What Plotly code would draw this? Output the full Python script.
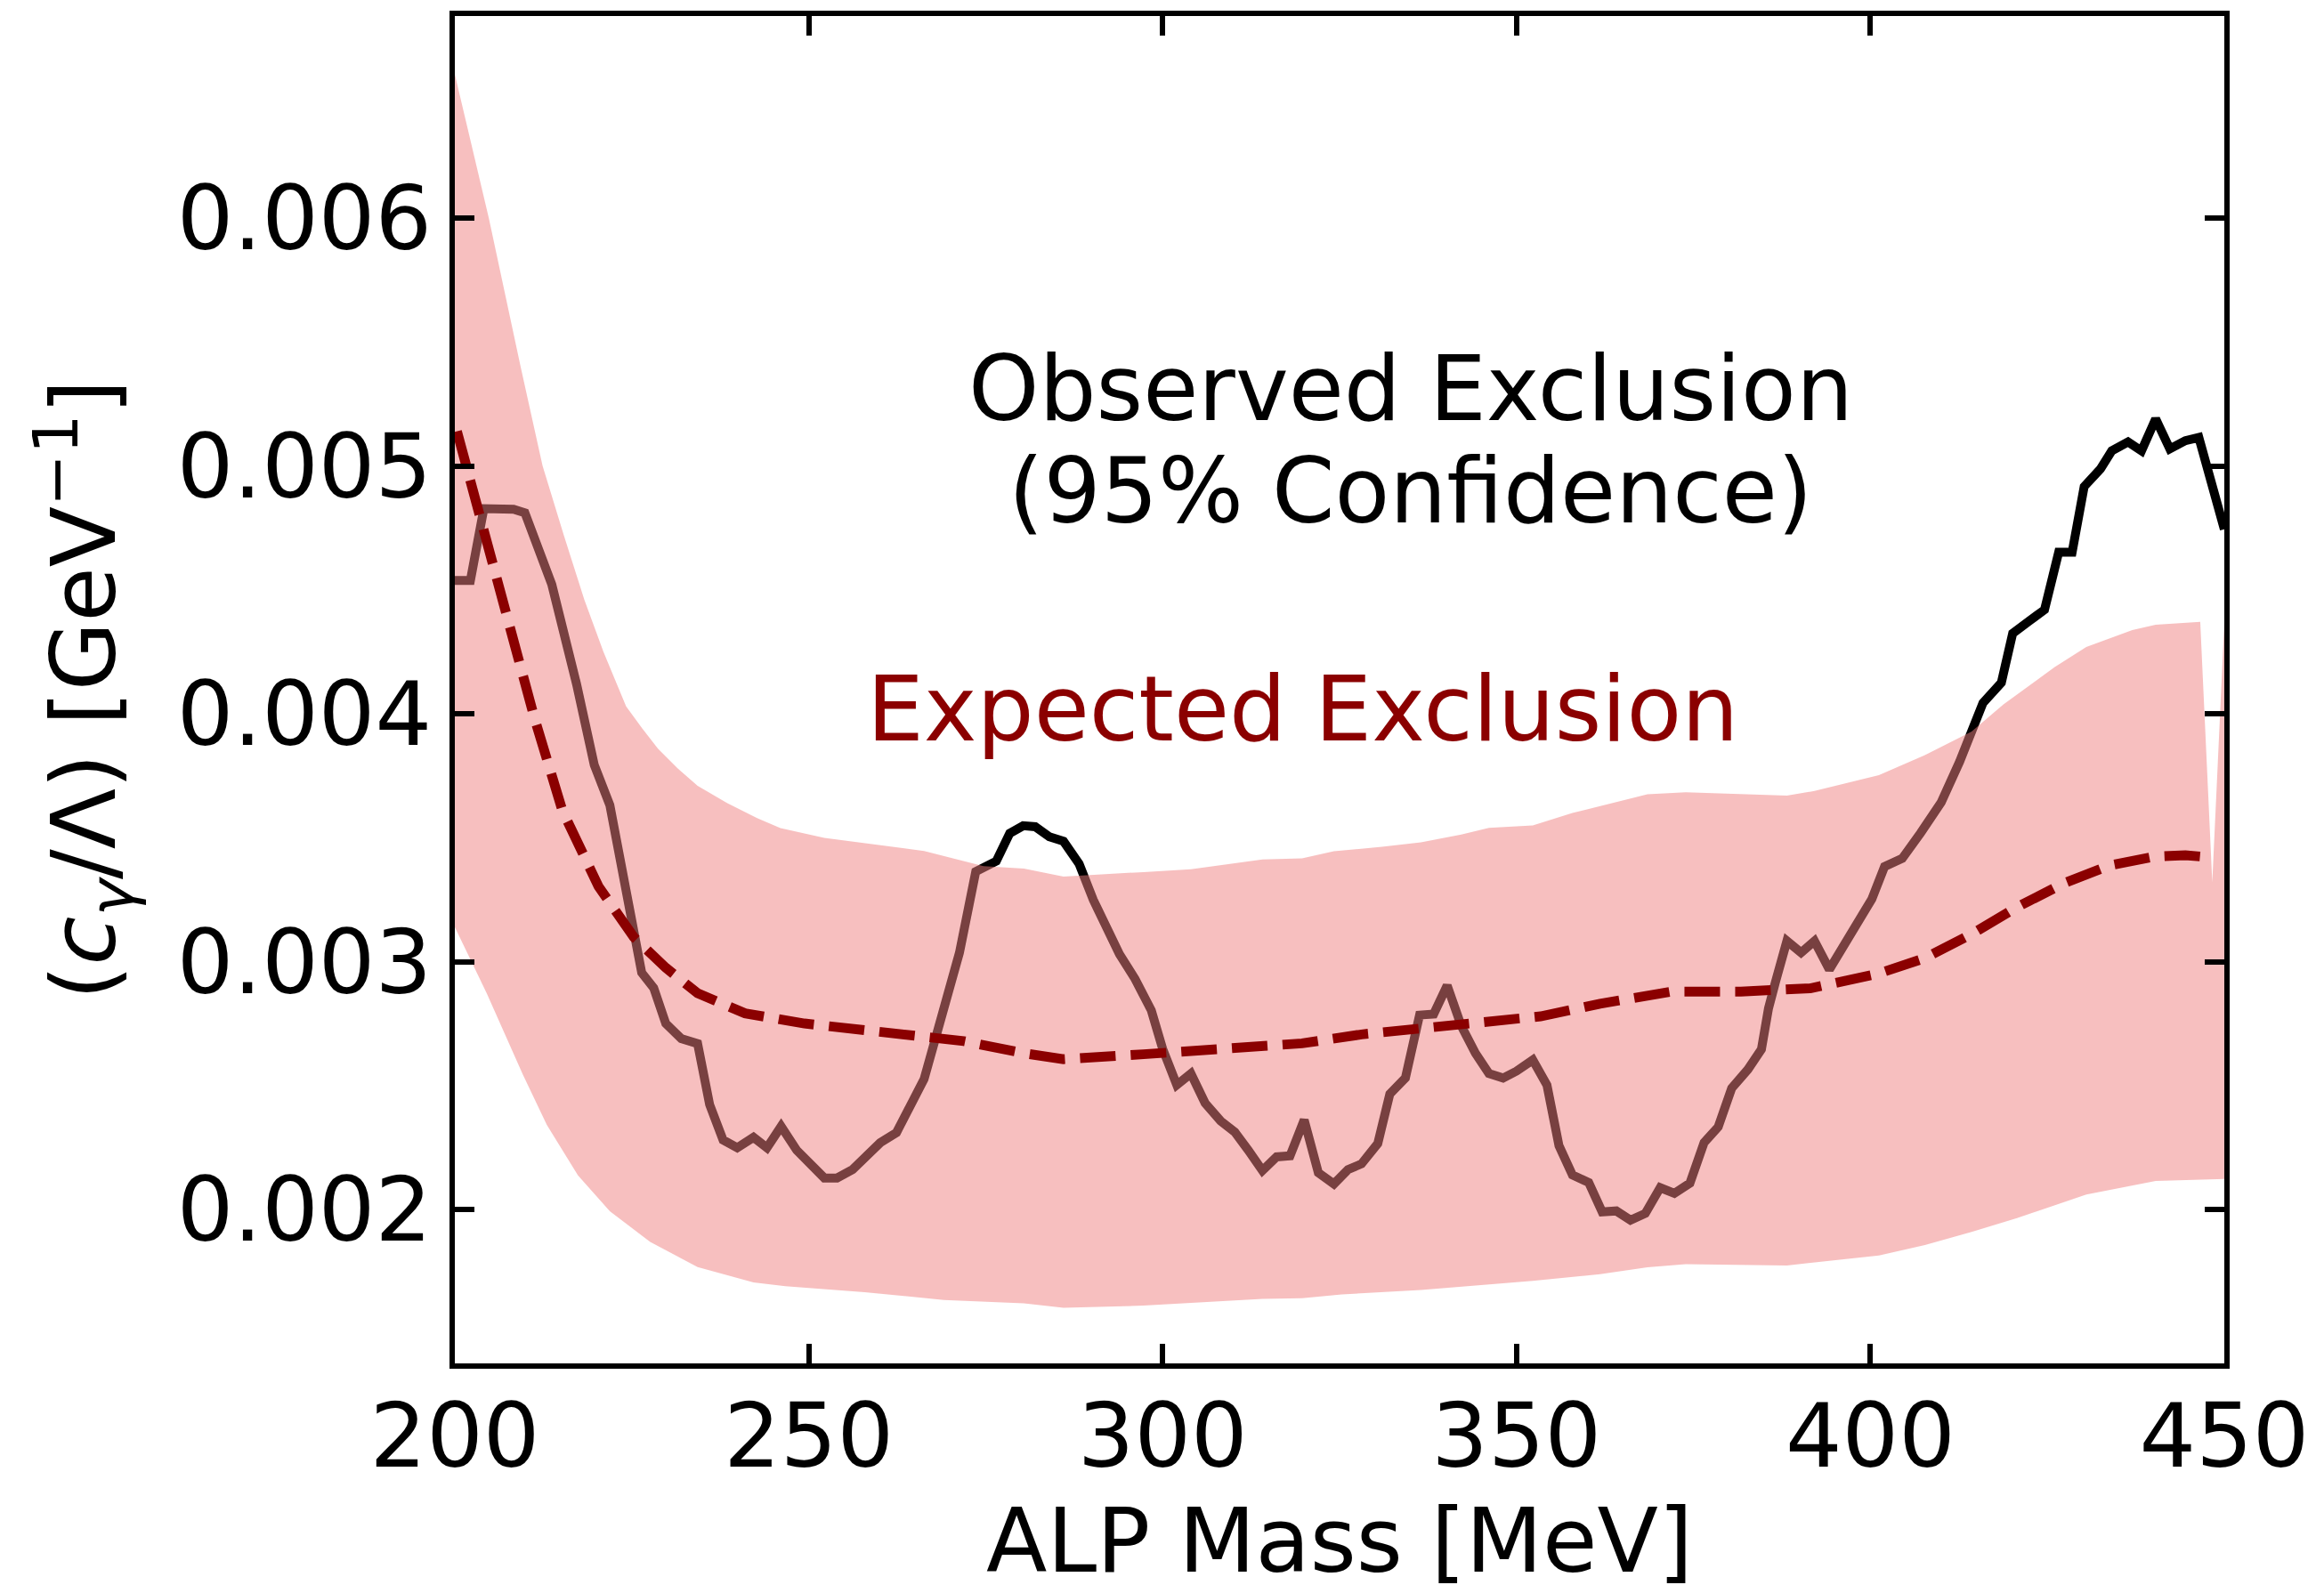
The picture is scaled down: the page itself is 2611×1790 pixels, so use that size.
import plotly.graph_objects as go

# ALP mass grid points (MeV) and coupling limits (GeV^-1)
obs_mass = [200, 202.2, 204.1, 208.3, 209.9, 213.7, 217.2, 219.7, 221.9, 224.2, 226.4, 228.1,
            229.8, 232, 234.3, 236, 237.9, 239.9, 242.2, 244.1, 246.1, 248.3, 252.2, 254,
            256.2, 260.1, 262.4, 266.3, 269.1, 271.3, 273.6, 276.5, 278.4, 280.3, 282, 284,
            286, 288.2, 290.2, 293.9, 296.1, 298.4, 300, 302, 304, 306, 308.2, 310.2,
            312.1, 314.1, 316.1, 318, 320, 322, 324.2, 326.2, 328.1, 330.4, 332.1, 334.3,
            336.3, 338.3, 340.2, 342.2, 344.2, 346.1, 348.1, 350, 352.3, 354.3, 356, 357.9,
            360.2, 362.1, 364.1, 366.1, 368.2, 370.3, 372.3, 374.5, 376.5, 378.5, 380.4, 382.7,
            384.6, 385.6, 386.6, 388.2, 390.2, 392.1, 394.2, 396, 398, 400.2, 402, 404.5,
            407.1, 410, 412.6, 415.9, 418.5, 420.1, 422.4, 424.6, 426.6, 428.5, 430.2, 432.5,
            434.1, 436.4, 438.3, 440.3, 442.3, 444.5, 446.4, 450]
obs_limit = [0.004538, 0.004538, 0.004828, 0.004825, 0.004811, 0.004522, 0.00412, 0.003794,
             0.003632, 0.003283, 0.002956, 0.002894, 0.002751, 0.00269, 0.00267, 0.002424,
             0.002281, 0.00225, 0.002292, 0.00225, 0.002336, 0.00224, 0.002128, 0.002128,
             0.002162, 0.00227, 0.002311, 0.002527, 0.002812, 0.003037, 0.003364, 0.003406,
             0.003518, 0.003549, 0.003545, 0.003504, 0.003486, 0.003395, 0.00325, 0.003031,
             0.002931, 0.002804, 0.002649, 0.002503, 0.002549, 0.00243, 0.002358, 0.002313,
             0.00224, 0.002158, 0.002213, 0.002217, 0.002362, 0.002149, 0.002104, 0.002162,
             0.002185, 0.002267, 0.002467, 0.002531, 0.002785, 0.002789, 0.002904, 0.002741,
             0.002631, 0.002549, 0.002531, 0.002559, 0.002604, 0.002503, 0.002258, 0.00214,
             0.00211, 0.001991, 0.001995, 0.001958, 0.001985, 0.002089, 0.002066, 0.002107,
             0.002271, 0.002334, 0.00249, 0.002566, 0.002647, 0.002812, 0.00292, 0.003084,
             0.003037, 0.003084, 0.002969, 0.003056, 0.003152, 0.003253, 0.003384, 0.003417,
             0.00352, 0.003643, 0.003807, 0.004044, 0.004126, 0.004325, 0.004374, 0.00442,
             0.004652, 0.004652, 0.004917, 0.004988, 0.005061, 0.005097, 0.005061, 0.00519,
             0.005069, 0.005102, 0.005115, 0.004745]

exp_mass = [200.3, 203.4, 207.3, 209.9, 211.3, 215.2, 220.3, 225.3, 229.8, 234.3, 241, 249.4,
            260.7, 271.9, 280.4, 286, 297.3, 304, 314.1, 319.7, 328.1, 336.5, 344.9, 353.4,
            361.8, 368.5, 372, 381.7, 391.5, 401.2, 407.7, 414.3, 420.7, 427.2, 433.8, 440.3,
            444.5, 448.5]
exp_limit = [0.005140, 0.00481, 0.004380, 0.004137, 0.003978, 0.00361, 0.003304, 0.003099,
             0.002976, 0.002873, 0.002792, 0.002751, 0.00272, 0.00268, 0.002631, 0.002607,
             0.002627, 0.00264, 0.002667, 0.002671, 0.002707, 0.002731, 0.002764, 0.00278,
             0.002831, 0.002867, 0.00288, 0.00288, 0.002893, 0.002953, 0.003015, 0.003112,
             0.00322, 0.003315, 0.003389, 0.003425, 0.003430, 0.00342]

band_hi_mass = [200, 204.8, 209.3, 212.4, 215.4, 218.3, 221.0, 224.2, 226.5, 228.7, 231.5,
                234.3, 238.5, 242.7, 246, 252.2, 266.3, 274.7, 280.4, 286, 297.3, 304, 314.1,
                319.7, 324.2, 331, 336.5, 342.2, 346.1, 352.3, 357.9, 363.5, 368.5, 373.9,
                388.2, 392.1, 401.2, 407.7, 414.3, 418.8, 426, 430.5, 437, 440.3, 446.6,
                448.3, 450]
band_hi = [0.00658, 0.0060, 0.0054, 0.0050, 0.00472, 0.00446, 0.00425, 0.00403, 0.00394,
           0.00386, 0.00378, 0.00371, 0.00364, 0.00358, 0.003539, 0.0035, 0.003447, 0.003386,
           0.003376, 0.003344, 0.003362, 0.003373, 0.003413, 0.003417, 0.003446, 0.003464,
           0.003482, 0.003513, 0.00354, 0.00355, 0.0036, 0.00364, 0.003676, 0.003684, 0.00367,
           0.003689, 0.003753, 0.003834, 0.003929, 0.004038, 0.004188, 0.00427, 0.004338,
           0.00436, 0.004371, 0.00332, 0.00437]

band_lo_mass = [200, 204.5, 209.6, 213, 217.4, 221.9, 227.6, 234.3, 242.2, 246.7, 257.9, 269.1,
                280.4, 286, 297.3, 314.1, 319.7, 325.3, 336.5, 352.3, 361.8, 368.5, 373.9,
                388.2, 401.2, 407.7, 414.3, 420.7, 430.5, 440.3, 450]
band_lo = [0.00314, 0.002873, 0.002546, 0.002342, 0.002138, 0.001994, 0.00187, 0.001769,
           0.001707, 0.001691, 0.001667, 0.001636, 0.001622, 0.001604, 0.001613, 0.00164,
           0.001643, 0.001658, 0.001676, 0.001713, 0.00174, 0.001768, 0.00178, 0.001775,
           0.001815, 0.001857, 0.00191, 0.001966, 0.002061, 0.002116, 0.002124]

x_ticks = [200, 250, 300, 350, 400, 450]
y_ticks = [0.002, 0.003, 0.004, 0.005, 0.006]

FONT = "DejaVu Sans"
FS = 100

fig = go.Figure()

# observed limit (drawn first so the band tints it where they overlap)
fig.add_trace(go.Scatter(
    x=obs_mass, y=obs_limit, mode="lines",
    line=dict(color="black", width=10),
    showlegend=False, hoverinfo="skip"))

# expected +/- band as one closed polygon
fig.add_trace(go.Scatter(
    x=band_hi_mass + band_lo_mass[::-1],
    y=band_hi + band_lo[::-1],
    mode="lines", fill="toself",
    fillcolor="rgba(240,128,128,0.5)",
    line=dict(width=0, color="rgba(0,0,0,0)"),
    showlegend=False, hoverinfo="skip"))

# expected limit
fig.add_trace(go.Scatter(
    x=exp_mass, y=exp_limit, mode="lines",
    line=dict(color="#8b0000", width=11, dash="40px,17px"),
    showlegend=False, hoverinfo="skip"))

axis_common = dict(
    showline=True, linecolor="black", linewidth=6, mirror="ticks",
    ticks="inside", ticklen=22, tickwidth=6, tickcolor="black",
    showgrid=False, zeroline=False,
    tickfont=dict(family=FONT, size=FS, color="black"),
)

fig.update_layout(
    width=2611, height=1790,
    margin=dict(l=511, r=112, t=18, b=245, pad=0),
    paper_bgcolor="white", plot_bgcolor="white",
    font=dict(family=FONT, size=FS, color="black"),
    xaxis=dict(range=[200, 450], tickvals=x_ticks, ticktext=[str(v) for v in x_ticks],
               ticklabelstandoff=-10,
               title=dict(text="ALP Mass [MeV]", font=dict(family=FONT, size=FS), standoff=36),
               **axis_common),
    yaxis=dict(range=[0.00138, 0.006815], tickvals=y_ticks,
               ticktext=[f"{v:.3f}" for v in y_ticks],
               title=dict(text="(<i>c</i><sub><i>γ</i></sub>/Λ) [GeV<sup>−1</sup>]",
                          font=dict(family=FONT, size=FS), standoff=38),
               **axis_common),
)

fig.add_annotation(x=335.0, y=0.005312, xref="x", yref="y", text="Observed Exclusion",
                   showarrow=False, xanchor="center", yanchor="middle",
                   font=dict(family=FONT, size=101, color="black"))
fig.add_annotation(x=335.0, y=0.004899, xref="x", yref="y", text="(95% Confidence)",
                   showarrow=False, xanchor="center", yanchor="middle",
                   font=dict(family=FONT, size=101, color="black"))
fig.add_annotation(x=319.8, y=0.00402, xref="x", yref="y", text="Expected Exclusion",
                   showarrow=False, xanchor="center", yanchor="middle",
                   font=dict(family=FONT, size=101, color="#8b0000"))

fig.write_html("out.html")
